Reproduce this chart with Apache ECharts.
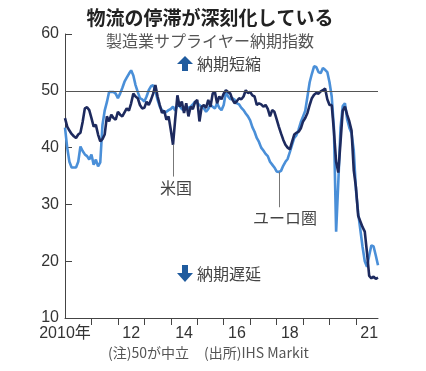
<!DOCTYPE html>
<html>
<head>
<meta charset="utf-8">
<script src="https://cdn.jsdelivr.net/npm/echarts@6/dist/echarts.min.js"></script>
<style>
html,body{margin:0;padding:0;background:#fff;}
#c{width:426px;height:371px;}
</style>
</head>
<body>
<div id="c"></div>
<script>
// ---- data (monthly, Jan 2010 – Nov 2021) ----
const startYear = 2010;
const monthCount = 143;

const usValues = [
  45.2, 43.7, 43.0, 42.4, 42.0, 41.7, 42.3, 42.6, 44.5, 46.9, 47.1, 46.6,
  45.2, 43.7, 44.0, 42.3, 41.1, 41.5, 42.3, 45.5, 44.6, 45.8, 45.2, 44.9,
  46.3, 45.8, 45.5, 46.2, 46.9, 46.5, 47.8, 49.5, 49.0, 48.7, 47.5, 46.9,
  47.0, 48.1, 47.5, 48.4, 49.5, 51.0, 49.0, 47.5, 46.1, 46.5, 44.9, 45.5,
  43.1, 40.5, 45.0, 49.2, 47.2, 48.1, 46.1, 47.8, 45.5, 47.2, 46.8, 48.0,
  48.4, 44.6, 47.2, 47.5, 47.0, 48.4, 47.2, 49.5, 49.8, 47.8, 49.0, 48.5,
  49.5, 50.1, 49.8, 49.5, 48.4, 47.8, 48.2, 48.7, 48.5, 49.0, 50.1, 49.6,
  49.8, 49.2, 49.0, 47.5, 47.8, 47.6, 47.2, 47.5, 46.8, 45.5, 46.6, 46.3,
  45.0, 43.7, 42.5, 41.4, 40.5, 40.0, 39.7, 41.0, 42.3, 42.6, 42.8, 43.4,
  44.6, 45.2, 46.1, 47.5, 48.7, 49.3, 49.6, 49.5, 49.9, 50.1, 50.4, 48.5,
  47.5, 47.5, 42.9, 37.5, 35.6, 41.0, 46.5, 47.2, 45.8, 44.6, 43.0, 36.0,
  33.0, 28.0, 27.0, 26.0, 25.2, 21.5, 17.4, 17.0, 17.3, 16.9, 17.1
];

const euroValues = [
  43.5, 40.0, 37.5, 36.5, 36.5, 36.5, 37.5, 40.2, 39.4, 38.8, 38.5, 37.9,
  38.8, 37.0, 37.9, 36.7, 37.4, 44.0, 46.5, 48.0, 49.8, 49.8, 49.8, 49.5,
  48.7, 49.5, 50.5, 51.6, 52.3, 53.0, 53.6, 52.7, 51.0, 49.8, 48.7, 48.5,
  48.1, 49.0, 50.1, 50.8, 51.0, 50.0, 48.4, 47.2, 46.6, 46.1, 46.3, 46.6,
  46.8, 47.2, 46.5, 47.5, 47.3, 46.8, 46.6, 46.9, 47.0, 47.2, 47.6, 48.1,
  47.8, 47.5, 47.2, 46.9, 46.3, 46.8, 47.5, 47.2, 46.9, 47.8, 47.0, 46.6,
  47.5, 49.8, 49.0, 48.5, 48.7, 48.4, 47.8, 47.6, 47.0, 46.6, 46.0, 45.5,
  44.8, 43.6, 42.8, 41.7, 41.0, 40.0, 39.5, 38.9, 38.5, 37.5, 37.0, 36.5,
  35.8, 35.7, 35.9, 36.8, 37.5, 38.0, 39.2, 40.5, 41.7, 42.2, 43.2, 44.5,
  45.5, 46.5, 49.0, 51.5, 53.0, 54.3, 54.2, 53.3, 53.1, 54.0, 53.7, 53.3,
  51.5, 49.0, 43.5, 25.2, 34.0, 43.5, 47.3, 47.8, 45.0, 43.5, 42.5, 39.5,
  32.5, 28.5, 25.5, 22.5, 20.0, 19.0, 21.0, 22.8, 22.6, 21.0, 19.3
];

// x-axis tick labels (category index -> text)
const xLabelIndex = [0, 30, 54, 78, 102, 138];
const xLabelText  = ['2010年', '12', '14', '16', '18', '21'];

// y-axis ticks
const yMin = 10, yMax = 60, yStep = 10;
const neutralLevel = 50;

// annotation anchors (category index, value)
const usLeader   = [[49, 40.5], [49, 34.9]];
const euroLeader = [[97, 35.7], [97, 29.5]];

const titleText = '物流の停滞が深刻化している';
const subtitleText = '製造業サプライヤー納期指数';
const usName = '米国';
const euroName = 'ユーロ圏';
const upText = '納期短縮';
const downText = '納期遅延';
const noteText = '(注)50が中立';
const sourceText = '(出所)IHS Markit';

// ---- build categories ----
const categories = [];
for (let i = 0; i < monthCount; i++) {
  const y = startYear + Math.floor(i / 12);
  const m = (i % 12) + 1;
  categories.push(y + '-' + (m < 10 ? '0' + m : m));
}

const FONT = "'Liberation Sans', Arial, 'Noto Sans CJK JP', sans-serif";
const CJK = "'Noto Sans CJK JP', 'Liberation Sans', sans-serif";

const chart = echarts.init(document.getElementById('c'), null, {renderer: 'canvas'});

const leaderStyle = {color: '#777', width: 1, type: 'solid'};

chart.setOption({
  animation: false,
  backgroundColor: '#fff',
  grid: {left: 65, right: 48, top: 34, bottom: 53, containLabel: false},
  xAxis: {
    type: 'category',
    data: categories,
    boundaryGap: false,
    axisLine: {show: true, lineStyle: {color: '#444', width: 1}},
    axisTick: {
      show: true, length: 7, inside: false,
      lineStyle: {color: '#444', width: 1},
      interval: (idx) => idx % 12 === 0 && idx > 0
    },
    axisLabel: {
      show: true,
      interval: (idx) => xLabelIndex.indexOf(idx) >= 0,
      formatter: (val, idx) => {
        const k = xLabelIndex.indexOf(idx);
        return k >= 0 ? xLabelText[k] : '';
      },
      color: '#333', fontSize: 16, fontFamily: FONT, margin: 8,
      hideOverlap: false
    },
    splitLine: {show: false}
  },
  yAxis: {
    type: 'value',
    min: yMin, max: yMax, interval: yStep,
    axisLine: {show: true, lineStyle: {color: '#444', width: 1}},
    axisTick: {show: true, inside: true, length: 7, lineStyle: {color: '#444', width: 1}},
    axisLabel: {color: '#333', fontSize: 16, fontFamily: FONT, margin: 6},
    splitLine: {show: false}
  },
  series: [
    {
      name: euroName,
      type: 'line',
      data: euroValues,
      symbol: 'none',
      lineStyle: {color: '#4a8fd8', width: 2.6},
      z: 2,
      markLine: {
        silent: true,
        symbol: ['none', 'none'],
        label: {show: false},
        data: [
          [{coord: euroLeader[0], lineStyle: leaderStyle}, {coord: euroLeader[1]}]
        ]
      }
    },
    {
      name: usName,
      type: 'line',
      data: usValues,
      symbol: 'none',
      lineStyle: {color: '#1d2a5e', width: 2.6},
      z: 3,
      markLine: {
        silent: true,
        symbol: ['none', 'none'],
        label: {show: false},
        data: [
          {yAxis: neutralLevel, lineStyle: {color: '#555', width: 1, type: 'solid'}},
          [{coord: usLeader[0], lineStyle: leaderStyle}, {coord: usLeader[1]}]
        ]
      }
    }
  ],
  graphic: [
    {type: 'text', style: {text: titleText, x: 210, y: 18, textAlign: 'center', textVerticalAlign: 'middle',
      font: 'bold 19px ' + CJK, fill: '#222'}},
    {type: 'text', style: {text: subtitleText, x: 210, y: 41, textAlign: 'center', textVerticalAlign: 'middle',
      font: '16px ' + CJK, fill: '#555'}},
    // up arrow
    {type: 'polygon', shape: {points: [[185, 56], [193, 64], [188, 64], [188, 71], [182, 71], [182, 64], [177, 64]]},
      style: {fill: '#1f5b9e'}},
    {type: 'text', style: {text: upText, x: 197, y: 64, textAlign: 'left', textVerticalAlign: 'middle',
      font: '16px ' + CJK, fill: '#444'}},
    // down arrow
    {type: 'polygon', shape: {points: [[182, 265], [188, 265], [188, 273], [193, 273], [185, 282], [177, 273], [182, 273]]},
      style: {fill: '#1f5b9e'}},
    {type: 'text', style: {text: downText, x: 197, y: 274, textAlign: 'left', textVerticalAlign: 'middle',
      font: '16px ' + CJK, fill: '#444'}},
    {type: 'text', style: {text: usName, x: 176, y: 188, textAlign: 'center', textVerticalAlign: 'middle',
      font: '16px ' + CJK, fill: '#444'}},
    {type: 'text', style: {text: euroName, x: 285, y: 218, textAlign: 'center', textVerticalAlign: 'middle',
      font: '16px ' + CJK, fill: '#444'}},
    {type: 'text', style: {text: noteText, x: 108, y: 353, textAlign: 'left', textVerticalAlign: 'middle',
      font: '14px ' + CJK, fill: '#555'}},
    {type: 'text', style: {text: sourceText, x: 204, y: 353, textAlign: 'left', textVerticalAlign: 'middle',
      font: '14px ' + CJK, fill: '#555'}}
  ]
});
</script>
</body>
</html>
